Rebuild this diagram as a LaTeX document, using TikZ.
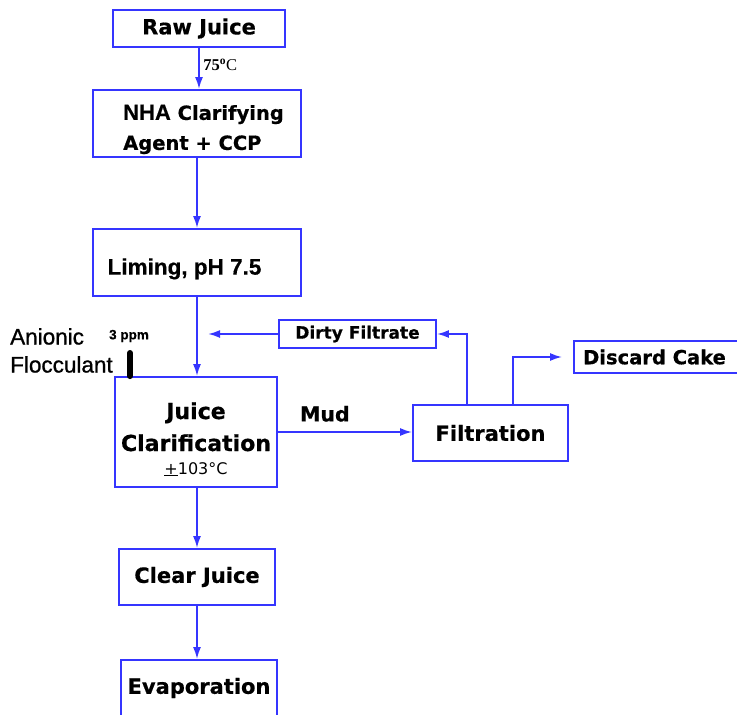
\documentclass[tikz,border=0pt]{standalone}
\usepackage{fontspec}
\setmainfont{DejaVu Sans}[BoldFeatures={FakeBold=0.6}]
\newfontfamily\serifnum{Liberation Serif}
\newfontfamily\narrowsans{Liberation Sans}[BoldFeatures={FakeBold=0.5}]
\newfontfamily\heavysans[FakeBold=1]{Liberation Sans}
\usetikzlibrary{arrows.meta, positioning}
\usepackage{xcolor}
\definecolor{FlowBlue}{HTML}{3535FF}

\begin{document}
\begin{tikzpicture}[x=1pt, y=-1pt,
    procbox/.style={draw=FlowBlue, line width=1.8pt, inner sep=0pt, font=\bfseries\fontsize{21}{26}\selectfont},
    flow/.style={draw=FlowBlue, line width=1.9pt, -{Latex[length=12pt,width=8pt]}}]
        \useasboundingbox (0,0) rectangle (737,715);
        % main line
        \node[procbox, minimum width=172pt, minimum height=37pt] (raw) at (199,28.5) {Raw Juice};
        \node[procbox, minimum width=208pt, minimum height=67pt, align=left, font=\bfseries\fontsize{19.5}{30}\selectfont] (nha) at (197,123.5) {\hspace*{13pt}\rule{0pt}{27pt}{\narrowsans\fontsize{22}{30}\selectfont NHA} Clarifying\\\hspace*{13pt}Agent + CCP};
        \node[procbox, minimum width=208pt, minimum height=67pt, font=\narrowsans\bfseries\fontsize{22.5}{26}\selectfont] (lim) at (197,262.5) {\rule{0pt}{29pt}Liming, pH 7.5\hspace*{25pt}};
        \node[procbox, minimum width=162pt, minimum height=110pt, align=center, font=\bfseries\fontsize{22}{27}\selectfont] (clar) at (196,432) {\rule{0pt}{31pt}Juice\\[5pt]Clarification\\[-4pt]{\mdseries\fontsize{16}{18}\selectfont\underline{+}103°C}};
        \node[procbox, minimum width=156pt, minimum height=56pt] (clear) at (197,577) {Clear Juice};
        \node[procbox, minimum width=156pt, minimum height=56pt] (evap) at (199,688) {Evaporation};
        % side line
        \node[procbox, minimum width=155pt, minimum height=56pt] (filt) at (490.5,433) {Filtration};
        \node[procbox, minimum width=157pt, minimum height=28pt, font=\bfseries\fontsize{17}{20}\selectfont] (dirty) at (357.5,334) {Dirty Filtrate};
        \node[procbox, minimum width=175pt, minimum height=32pt, font=\bfseries\fontsize{19.5}{23}\selectfont] (cake) at (661.5,357) {Discard Cake\hspace*{14pt}};
        \node[anchor=north west, inner sep=0pt, align=left, font=\heavysans\fontsize{22.5}{28}\selectfont] (anion) at (10,328) {Anionic\\Flocculant};
        \node[inner sep=0pt, font=\narrowsans\bfseries\fontsize{13.5}{15}\selectfont] (ppm) at (129,336) {3 ppm};
        \coordinate (ret) at (208,334);
        \coordinate (floc) at (130,353);

        \draw[flow] (raw.south) -- (raw.south |- nha.north) node[pos=0.42, right=0pt, font=\serifnum\bfseries\fontsize{16.5}{18}\selectfont] {75\textsuperscript{o}\mdseries C};
        \draw[flow] (nha.south) -- (lim.north);
        \draw[flow] (lim.south) -- (lim.south |- clar.north);
        \draw[flow] (clear.north |- clar.south) -- (clear.north);
        \draw[flow] (clear.south) -- (clear.south |- evap.north);
        \draw[flow] (clar.east) -- (clar.east -| filt.west) node[pos=0.35, above=6pt, font=\bfseries\fontsize{20.5}{24}\selectfont] {Mud};
        \draw[flow] ([xshift=-23.5pt]filt.north) |- (dirty.east);
        \draw[flow] (dirty.west) -- (ret);
        \draw[flow] ([xshift=22.5pt]filt.north) |- ([xshift=-11pt]cake.west);
        \draw[line width=6pt, line cap=round] (floc) -- (floc |- clar.north);
    \end{tikzpicture}
\end{document}
